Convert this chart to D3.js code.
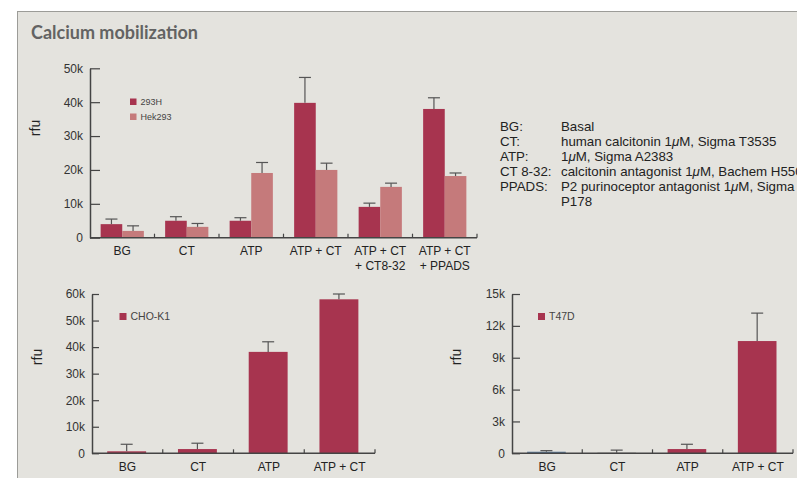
<!DOCTYPE html>
<html>
<head>
<meta charset="utf-8">
<script src="https://cdn.jsdelivr.net/npm/d3@7"></script>
<style>
  body { margin: 0; background: #fff; }
  svg { display: block; font-family: 'Liberation Sans', Arial, sans-serif; }
</style>
</head>
<body>
<div id="chart"></div>
<script>
// top chart: 293H vs Hek293
const topCats = [['BG'], ['CT'], ['ATP'], ['ATP + CT'], ['ATP + CT', '+ CT8-32'], ['ATP + CT', '+ PPADS']]
const topSeries = ['293H', 'Hek293']
const val293H = [4.0, 5.0, 5.0, 39.8, 9.1, 38.0]
const err293H = [5.5, 6.2, 5.9, 47.3, 10.2, 41.3]
const valHek = [2.0, 3.2, 19.1, 20.0, 15.0, 18.2]
const errHek = [3.5, 4.2, 22.2, 22.0, 16.1, 19.1]
const topTicks = [0, 10, 20, 30, 40, 50]

// bottom left: CHO-K1
const choCats = ['BG', 'CT', 'ATP', 'ATP + CT']
const choVals = [0.75, 1.6, 38.2, 58.0]
const choErr = [3.4, 3.8, 42.0, 60.0]
const choTicks = [0, 10, 20, 30, 40, 50, 60]

// bottom right: T47D
const t47Cats = ['BG', 'CT', 'ATP', 'ATP + CT']
const t47Vals = [0.15, 0.05, 0.4, 10.57]
const t47Err = [0.25, 0.3, 0.85, 13.2]
const t47Ticks = [0, 3, 6, 9, 12, 15]

// definitions shown at right
const defKeys = ['BG:', 'CT:', 'ATP:', 'CT 8-32:', 'PPADS:', '']
const defVals = ['Basal', 'human calcitonin 1\u03bcM, Sigma T3535', '1\u03bcM, Sigma A2383',
  'calcitonin antagonist 1\u03bcM, Bachem H5506', 'P2 purinoceptor antagonist 1\u03bcM, Sigma', 'P178']

const dark = '#a7344f'
const light = '#c57a7b'
const axisColor = '#444'
const errColor = '#555'
const fmtK = d => d === 0 ? '0' : d + 'k'

const svg = d3.select('#chart').append('svg')
  .attr('width', 797)
  .attr('height', 478)

svg.append('rect')
  .attr('x', 17.5).attr('y', 11.5)
  .attr('width', 800).attr('height', 500)
  .attr('fill', '#e4e3de')
  .attr('stroke', '#9c9c98')

svg.append('text')
  .attr('x', 31).attr('y', 39)
  .attr('font-family', 'Lato, sans-serif')
  .attr('font-weight', 'bold')
  .attr('font-size', '18px')
  .attr('fill', '#636363')
  .text('Calcium mobilization')

// y axis + x baseline with boundary ticks + rfu label
const drawFrame = (g, y, ticks, x0, x1, tickLen, labelX, labelY, bandStep) => {
  const yAxis = g.append('g')
    .attr('transform', `translate(${x0},0)`)
    .call(d3.axisLeft(y).tickValues(ticks).tickFormat(fmtK)
      .tickSizeInner(-tickLen).tickSizeOuter(0).tickPadding(7))
  yAxis.select('.domain').attr('stroke', axisColor).attr('stroke-width', 1.5)
  yAxis.selectAll('.tick line').attr('stroke', axisColor).attr('stroke-width', 1.2)
  yAxis.selectAll('.tick text')
    .attr('font-size', '12px')
    .attr('fill', '#333')
    .attr('font-family', "'Liberation Sans', Arial, sans-serif")

  const y0 = y(0)
  g.append('line')
    .attr('x1', x0).attr('x2', x1)
    .attr('y1', y0).attr('y2', y0)
    .attr('stroke', axisColor).attr('stroke-width', 1.5)

  d3.range(1, Math.round((x1 - x0) / bandStep) + 1).forEach(i => {
    const xx = x0 + i * bandStep
    g.append('line')
      .attr('x1', xx).attr('x2', xx)
      .attr('y1', y0).attr('y2', y0 - 4)
      .attr('stroke', axisColor).attr('stroke-width', 1.2)
  })

  g.append('text')
    .attr('transform', `translate(${labelX},${labelY}) rotate(-90)`)
    .attr('text-anchor', 'middle')
    .attr('font-size', '14px')
    .attr('fill', '#222')
    .text('rfu')
}

const errBar = (g, cx, yTop, yErr) => {
  g.append('line')
    .attr('x1', cx).attr('x2', cx)
    .attr('y1', yTop).attr('y2', yErr)
    .attr('stroke', errColor).attr('stroke-width', 1.2)
  g.append('line')
    .attr('x1', cx - 6).attr('x2', cx + 6)
    .attr('y1', yErr).attr('y2', yErr)
    .attr('stroke', errColor).attr('stroke-width', 1.2)
}

const legendItem = (g, x, y, color, label, size, fontSize) => {
  g.append('rect')
    .attr('x', x).attr('y', y)
    .attr('width', size).attr('height', size)
    .attr('fill', color)
  g.append('text')
    .attr('x', x + size + 4).attr('y', y + size / 2)
    .attr('dy', '.35em')
    .attr('font-size', fontSize)
    .attr('fill', '#444')
    .text(label)
}

// ---------- top chart ----------
{
  const g = svg.append('g')
  const x0 = d3.scaleBand().domain(d3.range(topCats.length)).range([90, 477])
  const bw = x0.bandwidth()
  const x1 = d3.scaleBand().domain(topSeries).range([bw * 0.165, bw * 0.835])
  const y = d3.scaleLinear().domain([0, 50]).range([237.7, 68.3])

  const series = [
    { key: '293H', vals: val293H, errs: err293H, color: dark },
    { key: 'Hek293', vals: valHek, errs: errHek, color: light }
  ]

  series.forEach(s => {
    s.vals.forEach((v, i) => {
      const bx = x0(i) + x1(s.key)
      g.append('rect')
        .attr('x', bx).attr('y', y(v))
        .attr('width', x1.bandwidth()).attr('height', y(0) - y(v))
        .attr('fill', s.color)
      errBar(g, bx + x1.bandwidth() / 2, y(v), y(s.errs[i]))
    })
  })

  drawFrame(g, y, topTicks, 90, 477, 10, 40, 128, bw)

  topCats.forEach((lines, i) => {
    const t = g.append('text')
      .attr('x', x0(i) + bw / 2).attr('y', 255)
      .attr('text-anchor', 'middle')
      .attr('font-size', '12px')
      .attr('fill', '#222')
    lines.forEach((ln, j) => {
      t.append('tspan')
        .attr('x', x0(i) + bw / 2)
        .attr('dy', j === 0 ? 0 : 15)
        .text(ln)
    })
  })

  legendItem(g, 130, 98.5, dark, '293H', 6.5, '9px')
  legendItem(g, 130, 113.5, light, 'Hek293', 6.5, '9px')
}

// ---------- definitions ----------
{
  const g = svg.append('g').attr('font-size', '13.3px').attr('fill', '#222')
  defKeys.forEach((k, i) => {
    const yy = 131 + i * 15
    g.append('text').attr('x', 500).attr('y', yy).text(k)
    const t = g.append('text').attr('x', 561).attr('y', yy)
    // the micro sign is set in italics
    defVals[i].split('\u03bc').forEach((part, j) => {
      if (j > 0) t.append('tspan').attr('font-style', 'italic').text('\u03bc')
      t.append('tspan').text(part)
    })
  })
}

// ---------- bottom charts ----------
const drawSingle = (cats, vals, errs, ticks, maxV, xa, xb, tickLen, labelX, legend, colors) => {
  const g = svg.append('g')
  const x = d3.scaleBand().domain(cats).range([xa, xb])
  const bw = x.bandwidth()
  const y = d3.scaleLinear().domain([0, maxV]).range([453.3, 294])

  vals.forEach((v, i) => {
    const bx = x(cats[i]) + bw * 0.215
    const w = bw * 0.55
    g.append('rect')
      .attr('x', bx).attr('y', y(v))
      .attr('width', w).attr('height', y(0) - y(v))
      .attr('fill', colors[i])
    errBar(g, bx + w / 2, y(v), y(errs[i]))
  })

  drawFrame(g, y, ticks, xa, xb, tickLen, labelX, 357, bw)

  cats.forEach(c => {
    g.append('text')
      .attr('x', x(c) + bw / 2).attr('y', 471)
      .attr('text-anchor', 'middle')
      .attr('font-size', '12px')
      .attr('fill', '#222')
      .text(c)
  })

  legendItem(g, legend[0], legend[1], dark, legend[2], 7, '10.5px')
}

drawSingle(choCats, choVals, choErr, choTicks, 60, 92, 375, 7, 42,
  [119.5, 313, 'CHO-K1'], [dark, dark, dark, dark])
drawSingle(t47Cats, t47Vals, t47Err, t47Ticks, 15, 512, 793, 8, 461,
  [538, 313, 'T47D'], ['#5f7f9f', '#666', dark, dark])
</script>
</body>
</html>
